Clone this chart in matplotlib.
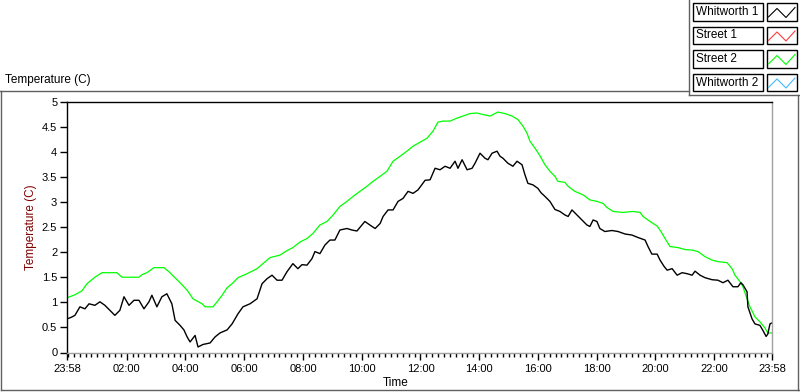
import numpy as np
import matplotlib
matplotlib.use('Agg')
import matplotlib.pyplot as plt
from matplotlib.lines import Line2D
from matplotlib.patches import Rectangle

# cas v urah od 23:58 naprej, temperature v C
ure_whitworth1 = [0.00, 0.14, 0.27, 0.44, 0.61, 0.75, 0.95, 1.12, 1.29, 1.46, 1.63, 1.80, 1.94, 2.11,
                  2.28, 2.45, 2.62, 2.79, 2.89, 3.06, 3.23, 3.40, 3.57, 3.68, 3.85, 3.98, 4.09, 4.19,
                  4.36, 4.46, 4.63, 4.87, 5.04, 5.21, 5.45, 5.62, 5.82, 5.99, 6.23, 6.47, 6.64, 6.81,
                  6.98, 7.15, 7.32, 7.49, 7.69, 7.86, 8.00, 8.17, 8.34, 8.44, 8.61, 8.78, 8.95, 9.12,
                  9.29, 9.53, 9.70, 9.87, 10.04, 10.14, 10.31, 10.49, 10.66, 10.76, 10.93, 11.10,
                  11.27, 11.44, 11.61, 11.78, 11.95, 12.09, 12.19, 12.36, 12.53, 12.70, 12.87, 13.04,
                  13.21, 13.31, 13.45, 13.62, 13.79, 13.89, 14.06, 14.23, 14.33, 14.47, 14.64, 14.74,
                  14.84, 15.01, 15.18, 15.32, 15.49, 15.59, 15.69, 15.86, 16.03, 16.14, 16.27, 16.44,
                  16.61, 16.78, 16.95, 17.06, 17.19, 17.36, 17.53, 17.70, 17.80, 17.91, 18.04, 18.14,
                  18.31, 18.55, 18.76, 19.00, 19.23, 19.44, 19.68, 19.78, 19.91, 20.09, 20.19, 20.32,
                  20.43, 20.60, 20.77, 20.94, 21.11, 21.28, 21.38, 21.55, 21.72, 21.96, 22.16, 22.33,
                  22.50, 22.67, 22.84, 22.94, 23.01, 23.15, 23.18, 23.32, 23.42, 23.59, 23.69, 23.80,
                  23.86, 23.93, 24.00]
temp_whitworth1 = [0.67, 0.70, 0.74, 0.91, 0.87, 0.97, 0.94, 1.01, 0.94, 0.84, 0.74, 0.84, 1.11, 0.94,
                   1.04, 1.04, 0.87, 1.01, 1.14, 0.91, 1.11, 1.17, 0.97, 0.64, 0.54, 0.45, 0.31, 0.21,
                   0.34, 0.11, 0.16, 0.19, 0.31, 0.39, 0.45, 0.57, 0.77, 0.91, 0.97, 1.07, 1.37, 1.47,
                   1.54, 1.44, 1.44, 1.61, 1.77, 1.67, 1.75, 1.74, 1.87, 2.01, 1.97, 2.14, 2.24, 2.24,
                   2.44, 2.47, 2.44, 2.42, 2.54, 2.61, 2.54, 2.47, 2.57, 2.71, 2.84, 2.84,
                   3.01, 3.07, 3.21, 3.17, 3.24, 3.35, 3.43, 3.44, 3.67, 3.64, 3.71, 3.67,
                   3.81, 3.67, 3.84, 3.64, 3.67, 3.77, 3.97, 3.87, 3.84, 3.97, 4.01, 3.91,
                   3.87, 3.77, 3.71, 3.81, 3.74, 3.54, 3.37, 3.34, 3.27, 3.18, 3.11, 3.01,
                   2.85, 2.81, 2.74, 2.71, 2.84, 2.74, 2.64, 2.54, 2.51, 2.64, 2.61, 2.47,
                   2.41, 2.43, 2.41, 2.36, 2.34, 2.29, 2.24, 2.11, 1.96, 1.96, 1.84, 1.72,
                   1.64, 1.67, 1.54, 1.59, 1.57, 1.54, 1.62, 1.54, 1.49, 1.45, 1.44, 1.39,
                   1.44, 1.31, 1.31, 1.39, 1.35, 1.21, 0.91, 0.67, 0.57, 0.54, 0.44, 0.32,
                   0.37, 0.57, 0.59]

ure_street2 = [0.00, 0.27, 0.51, 0.68, 0.95, 1.19, 1.70, 1.87, 2.45, 2.55, 2.72, 2.96, 3.30, 3.47,
               3.64, 3.85, 4.09, 4.29, 4.60, 4.70, 4.97, 5.11, 5.28, 5.45, 5.62, 5.82, 6.13, 6.47,
               6.67, 6.91, 7.25, 7.49, 7.69, 7.93, 8.17, 8.37, 8.61, 8.85, 9.06, 9.29, 9.53, 9.74,
               9.97, 10.21, 10.42, 10.66, 10.89, 11.10, 11.34, 11.57, 11.78, 12.02, 12.26, 12.46,
               12.63, 12.80, 13.04, 13.28, 13.48, 13.72, 13.96, 14.17, 14.40, 14.67, 14.91, 15.15,
               15.35, 15.52, 15.66, 15.76, 15.93, 16.10, 16.27, 16.44, 16.61, 16.71, 16.95, 17.06,
               17.29, 17.57, 17.80, 18.04, 18.25, 18.38, 18.59, 18.93, 19.27, 19.51, 19.61, 19.85,
               20.09, 20.22, 20.36, 20.53, 20.80, 21.04, 21.28, 21.48, 21.72, 21.96, 22.16, 22.47,
               22.64, 22.74, 22.91, 23.01, 23.15, 23.25, 23.42, 23.59, 23.76, 23.86, 24.00]
temp_street2 = [1.09, 1.15, 1.23, 1.37, 1.50, 1.59, 1.59, 1.50, 1.50, 1.55, 1.59, 1.69, 1.69, 1.61,
                1.51, 1.39, 1.24, 1.07, 0.97, 0.91, 0.91, 1.01, 1.14, 1.29, 1.37, 1.49, 1.57, 1.67,
                1.77, 1.89, 1.94, 2.03, 2.09, 2.20, 2.27, 2.37, 2.54, 2.61, 2.74, 2.91, 3.01, 3.11,
                3.21, 3.31, 3.41, 3.51, 3.61, 3.81, 3.91, 4.01, 4.11, 4.19, 4.27, 4.41,
                4.59, 4.61, 4.61, 4.67, 4.71, 4.76, 4.77, 4.74, 4.71, 4.79, 4.76, 4.71,
                4.64, 4.51, 4.37, 4.21, 4.07, 3.92, 3.74, 3.61, 3.51, 3.41, 3.39, 3.31,
                3.21, 3.14, 3.04, 3.01, 2.97, 2.89, 2.81, 2.79, 2.81, 2.79, 2.71, 2.61,
                2.52, 2.41, 2.27, 2.11, 2.09, 2.05, 2.04, 2.01, 1.91, 1.84, 1.81, 1.79,
                1.67, 1.54, 1.41, 1.31, 1.07, 0.91, 0.71, 0.61, 0.49, 0.39, 0.39]

imena_serij = ['Whitworth 1', 'Street 1', 'Street 2', 'Whitworth 2']
barve_serij = ['black', '#ff3c3c', '#00ff00', '#3cbcff']

oznake_x = ['23:58', '02:00', '04:00', '06:00', '08:00', '10:00', '12:00',
            '14:00', '16:00', '18:00', '20:00', '22:00', '23:58']

W, H = 800, 392
pisava = 'Liberation Sans'
plt.rcParams['font.family'] = [pisava, 'DejaVu Sans']


def px(x, y):
    # piksli -> koordinate slike
    return x / W, 1 - y / H


fig = plt.figure(figsize=(W / 100, H / 100), dpi=100)
fig.patch.set_facecolor('white')

l, b = px(67, 352.5)
r, t = px(772, 101.5)
ax = fig.add_axes([l, b, r - l, t - b])

ax.plot(ure_street2, temp_street2, color=barve_serij[2], lw=0.9)
ax.plot(ure_whitworth1, temp_whitworth1, color=barve_serij[0], lw=1.0)

ax.set_xlim(0, 24)
ax.set_ylim(0, 5)

# glavne oznake: 23:58, nato polne ure 02:00 ... 22:00, in 23:58
glavne = [0] + [2 + 2 / 60 + 2 * i for i in range(11)] + [24]
ax.set_xticks(glavne)
ax.set_xticklabels(oznake_x)
manjse = [x for x in np.arange(2 + 2 / 60 - 0.2 * 10, 24.01, 0.2) if 0 < x < 24]
ax.set_xticks(manjse, minor=True)

ax.set_yticks(np.arange(0, 5.01, 0.5))
ax.set_yticklabels(['%g' % v for v in np.arange(0, 5.01, 0.5)])

ax.tick_params(axis='both', which='major', direction='out', length=5, width=1,
               labelsize=8, pad=2, colors='black')
ax.tick_params(axis='x', which='major', pad=3)
ax.tick_params(axis='x', which='minor', direction='out', length=3, width=1)

for s in ['top', 'left']:
    ax.spines[s].set_color('black')
    ax.spines[s].set_linewidth(1)
for s in ['bottom', 'right']:
    ax.spines[s].set_color('#a0a0a0')
    ax.spines[s].set_linewidth(1)

ax.set_ylabel('Temperature (C)', color='#800000', fontsize=8.5)
ax.yaxis.set_label_coords(-0.043, 0.5)

fig.text(*px(396, 383), 'Time', ha='center', va='center', fontsize=8.5)
fig.text(*px(5, 80), 'Temperature (C)', ha='left', va='center', fontsize=8.5)

# okvir okoli grafa
crte = [((0, 91), (689, 91)), ((689, 0), (689, 95)), ((689, 95), (800, 95)),
        ((1, 91), (1, 390)), ((1, 390), (799, 390)), ((798, 95), (798, 390))]
for (x0, y0), (x1, y1) in crte:
    a, c = px(x0, y0)
    d, e = px(x1, y1)
    fig.add_artist(Line2D([a, d], [c, e], color='#606060', lw=1))

# legenda
for i, (ime, barva) in enumerate(zip(imena_serij, barve_serij)):
    vrh = 3.5 + i * 23.5
    x0, y0 = px(693, vrh + 17)
    fig.add_artist(Rectangle((x0, y0), 70 / W, 17 / H, transform=fig.transFigure,
                             fill=False, edgecolor='black', lw=1))
    x0, y0 = px(767, vrh + 17)
    fig.add_artist(Rectangle((x0, y0), 30 / W, 17 / H, transform=fig.transFigure,
                             fill=False, edgecolor='black', lw=1))
    fig.text(*px(696, vrh + 8.5), ime, ha='left', va='center', fontsize=8.5)
    cik = [(768.5, 13.4), (777, 5), (786, 14), (795, 4)]
    xs = [px(x, vrh + y)[0] for x, y in cik]
    ys = [px(x, vrh + y)[1] for x, y in cik]
    fig.add_artist(Line2D(xs, ys, color=barva, lw=0.8))

fig.savefig('out.png', dpi=100)
